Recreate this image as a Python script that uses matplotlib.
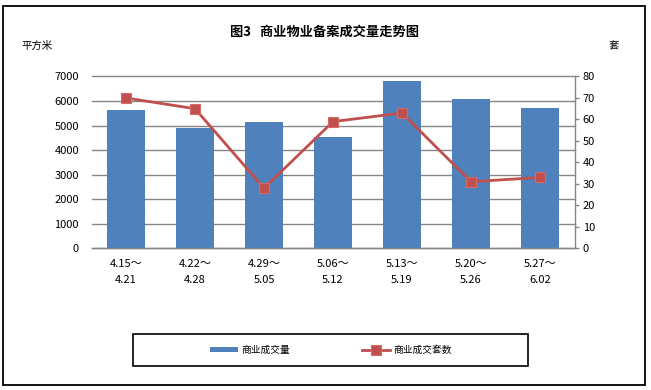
import matplotlib
matplotlib.use("Agg")
import matplotlib.pyplot as plt
from matplotlib.patches import Rectangle

plt.rcParams['font.family'] = ['Noto Sans CJK SC', 'DejaVu Sans']

categories = ["4.15～\n4.21", "4.22～\n4.28", "4.29～\n5.05", "5.06～\n5.12",
              "5.13～\n5.19", "5.20～\n5.26", "5.27～\n6.02"]
area_values = [5650, 4920, 5130, 4550, 6800, 6100, 5700]
unit_values = [70, 65, 28, 59, 63, 31, 33]
left_ticks = [0, 1000, 2000, 3000, 4000, 5000, 6000, 7000]
right_ticks = [0, 10, 20, 30, 40, 50, 60, 70, 80]

W, H = 651, 390
fig = plt.figure(figsize=(W / 100, H / 100), dpi=100)

def fx(px):
    return px / W

def fy(py):
    return 1 - py / H

ax_left, ax_right, ax_top, ax_bot = 91.5, 574.5, 76.5, 248.3
ax = fig.add_axes([fx(ax_left), fy(ax_bot), fx(ax_right - ax_left), (ax_bot - ax_top) / H])
ax2 = ax.twinx()

bar_color = '#4F81BD'
line_color = '#C0504D'
grid_color = '#868686'

x = list(range(len(categories)))
bars = ax.bar(x, area_values, width=0.565, color=bar_color, label='商业成交量', zorder=2)
ax.set_xlim(-0.5, len(categories) - 0.5)
ax.set_ylim(0, 7000)
ax.set_yticks(left_ticks)
ax.set_yticklabels([str(t) for t in left_ticks])
ax.yaxis.grid(True, color=grid_color, linewidth=1.0)
for gl in ax.get_ygridlines():
    gl.set_clip_on(False)
ax.set_axisbelow(True)
ax.tick_params(axis='y', length=0, pad=9, labelsize=8)
ax.set_xticks(x)
ax.set_xticklabels(categories, fontsize=8, linespacing=1.75)
ax.tick_params(axis='x', length=0, pad=8)
for s in ['top', 'left', 'right']:
    ax.spines[s].set_visible(False)
ax.spines['bottom'].set_color(grid_color)
ax.spines['bottom'].set_linewidth(1.0)

line, = ax2.plot(x, unit_values, color=line_color, linewidth=2.0, marker='s',
                 markersize=7.5, markerfacecolor=line_color, markeredgecolor='#D46B68',
                 markeredgewidth=0.8, label='商业成交套数', zorder=3)
ax2.set_ylim(0, 80)
ax2.set_yticks(right_ticks)
ax2.set_yticklabels([str(t) for t in right_ticks])
ax2.tick_params(axis='y', direction='out', length=3, width=1.0, color=grid_color,
                pad=3, labelsize=8)
for s in ['top', 'left', 'bottom']:
    ax2.spines[s].set_visible(False)
ax2.spines['right'].set_color(grid_color)
ax2.spines['right'].set_linewidth(1.0)

fig.text(fx(325), fy(31.5), '图3   商业物业备案成交量走势图', ha='center', va='center',
         fontsize=9.5, fontweight='bold')
fig.text(fx(21), fy(46), '平方米', ha='left', va='center', fontsize=7.5)
fig.text(fx(614), fy(46), '套', ha='center', va='center', fontsize=7.5)

# legend box
fig.patches.append(Rectangle((fx(133), fy(366)), fx(528 - 133), (366 - 334) / H,
                             transform=fig.transFigure, fill=False, edgecolor='black',
                             linewidth=1.2))
leg = fig.legend(handles=[bars, line], labels=['商业成交量', '商业成交套数'],
                 loc='center', bbox_to_anchor=(fx(331), fy(350)), ncol=2, frameon=False,
                 fontsize=7, handlelength=2.9, handleheight=0.55, handletextpad=0.3,
                 columnspacing=7.4)

# outer border
fig.patches.append(Rectangle((fx(3), fy(385)), fx(645 - 3), (385 - 6) / H,
                             transform=fig.transFigure, fill=False, edgecolor='black',
                             linewidth=1.3))

fig.savefig('out.png', dpi=100)
